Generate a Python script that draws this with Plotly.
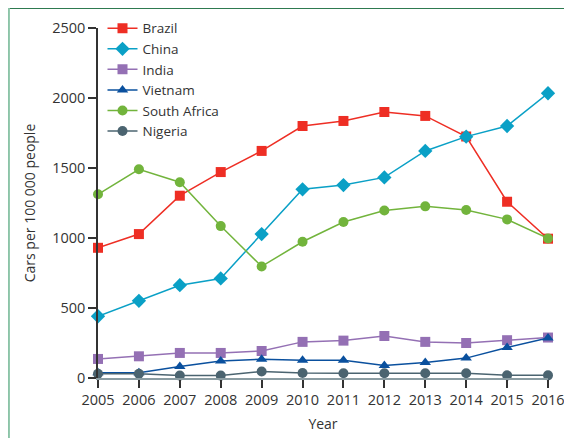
import plotly.graph_objects as go

years = list(range(2005, 2017))
brazil = [930, 1028, 1302, 1471, 1622, 1800, 1836, 1900, 1872, 1725, 1259, 995]
china = [441, 551, 663, 711, 1028, 1348, 1378, 1433, 1622, 1724, 1800, 2034]
india = [136, 155, 179, 179, 193, 258, 267, 300, 258, 250, 270, 289]
vietnam = [38, 38, 82, 122, 134, 127, 127, 89, 110, 142, 218, 285]
south_africa = [1312, 1491, 1398, 1085, 797, 973, 1114, 1197, 1226, 1200, 1133, 997]
nigeria = [30, 30, 17, 17, 46, 36, 34, 34, 34, 34, 19, 19]

series = [
    ("Brazil", brazil, "#ee2e24", "square", 10),
    ("China", china, "#0aa0c6", "diamond", 11),
    ("India", india, "#9470b4", "square", 10),
    ("Vietnam", vietnam, "#0a509e", "triangle-up", 10),
    ("South Africa", south_africa, "#72b43c", "circle", 10),
    ("Nigeria", nigeria, "#4b6470", "circle", 10),
]

fig = go.Figure()
for name, vals, col, sym, sz in series:
    fig.add_trace(go.Scatter(
        x=years, y=vals, name=name, mode="lines+markers",
        line=dict(color=col, width=1.5),
        marker=dict(color=col, symbol=sym, size=sz),
        cliponaxis=False,
    ))

font = "Open Sans"
fig.update_layout(
    width=564, height=430,
    margin=dict(l=90, r=24, t=20, b=60, autoexpand=False),
    paper_bgcolor="white", plot_bgcolor="white",
    font=dict(family=font, size=14, color="#333333"),
    showlegend=True,
    legend=dict(x=0.01, y=1.043, xanchor="left", yanchor="top",
                bgcolor="rgba(0,0,0,0)", font=dict(size=13.5, color="#333333"),
                tracegroupgap=0, itemwidth=30),
    xaxis=dict(range=[2005, 2016], tickmode="array", tickvals=years,
               showgrid=False, zeroline=False, showline=True,
               linecolor="#8a9ca2", linewidth=1.5,
               ticks="outside", ticklen=8, tickcolor="#333333", tickwidth=1.5,
               title=dict(text="Year", standoff=11, font=dict(size=14)),
               tickfont=dict(size=14.5)),
    yaxis=dict(range=[0, 2500], tickvals=[0, 500, 1000, 1500, 2000, 2500],
               showgrid=False, zeroline=False, showline=True,
               linecolor="#333333", linewidth=1.5,
               ticks="outside", ticklen=8, tickcolor="#333333", tickwidth=1.5,
               title=dict(text="Cars per 100 000 people", standoff=13, font=dict(size=14)),
               tickfont=dict(size=14.5)),
    shapes=[
        dict(type="line", xref="paper", yref="paper", x0=-0.198, x1=1.06,
             y0=1.057, y1=1.057, line=dict(color="#2e7a50", width=2)),
        dict(type="line", xref="paper", yref="paper", x0=-0.198, x1=-0.198,
             y0=1.057, y1=-0.2, line=dict(color="#8cc4a8", width=2)),
    ],
)

fig.write_html("out.html")
